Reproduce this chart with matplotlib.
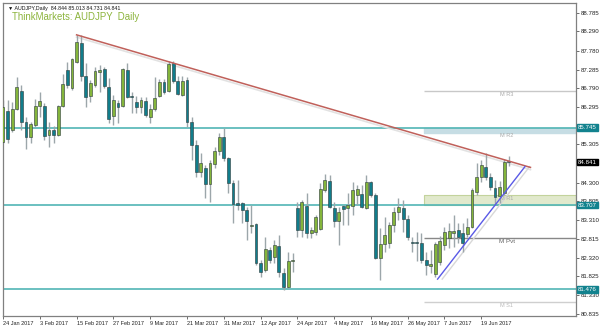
import numpy as np
import matplotlib.pyplot as plt

# AUDJPY daily candles, 24 Jan 2017 .. 27 Jun 2017 (business days)
opens = [85.37, 86.19, 85.69, 86.24, 86.72, 85.90, 85.50, 85.82, 86.32, 86.32,
         85.56, 85.69, 85.56, 86.32, 87.27, 86.80, 87.48, 87.99, 87.11, 86.59,
         86.88, 87.22, 87.30, 86.82, 86.06, 86.40, 86.32, 87.27, 86.59, 86.43,
         86.29, 86.45, 86.03, 86.24, 86.59, 86.96, 86.72, 87.46, 86.98, 86.61,
         87.01, 85.90, 85.29, 84.58, 84.68, 84.26, 84.79, 85.13, 85.50, 84.95,
         84.29, 83.76, 83.76, 83.57, 83.15, 83.20, 82.18, 81.99, 82.52, 82.33,
         82.62, 81.91, 81.54, 82.23, 83.63, 83.05, 83.68, 82.97, 82.99, 83.07,
         84.10, 84.34, 83.63, 83.28, 83.68, 83.63, 83.68, 83.97, 84.00, 83.63,
         84.31, 83.97, 82.31, 82.68, 82.70, 83.18, 83.52, 83.63, 83.34, 82.73,
         82.73, 82.70, 82.25, 82.10, 81.88, 82.20, 82.65, 82.84, 82.97, 83.05,
         82.97, 82.94, 83.13, 84.05, 84.45, 84.71, 84.45, 84.16, 83.94, 84.02,
         84.844]
highs = [86.48, 86.48, 86.43, 87.09, 86.88, 86.03, 85.90, 86.51, 86.69, 86.40,
         85.90, 85.79, 86.35, 87.17, 87.48, 87.59, 88.20, 88.20, 87.46, 87.01,
         87.35, 87.40, 87.35, 87.06, 86.61, 86.48, 87.33, 87.46, 86.69, 86.59,
         86.56, 86.56, 86.37, 87.09, 87.03, 87.03, 87.51, 87.51, 87.11, 87.11,
         87.09, 86.03, 85.42, 85.08, 84.76, 84.90, 85.24, 85.61, 85.74, 84.97,
         84.37, 84.37, 83.79, 83.65, 83.71, 83.23, 82.25, 82.86, 82.60, 82.78,
         82.91, 82.04, 82.47, 82.44, 83.79, 83.84, 84.02, 83.13, 83.44, 84.29,
         84.53, 84.50, 83.79, 83.65, 83.71, 84.02, 84.31, 84.23, 84.23, 84.50,
         84.34, 84.02, 83.10, 83.39, 83.26, 83.65, 83.89, 83.84, 83.44, 82.86,
         82.99, 82.97, 82.47, 82.52, 82.73, 82.89, 83.13, 83.23, 83.44, 83.23,
         83.23, 83.36, 84.16, 84.82, 84.90, 85.08, 84.55, 84.37, 84.34, 84.92,
         85.013]
lows = [85.34, 85.34, 85.63, 86.22, 85.69, 85.19, 85.34, 85.77, 86.03, 85.42,
        85.24, 85.34, 85.53, 86.29, 86.80, 86.74, 87.46, 86.98, 86.29, 86.43,
        86.82, 86.69, 86.80, 85.87, 85.82, 85.87, 86.29, 86.54, 86.14, 86.14,
        86.14, 86.03, 85.87, 86.19, 86.56, 86.64, 86.69, 86.93, 86.61, 86.59,
        85.77, 84.90, 84.45, 84.45, 83.89, 83.79, 84.68, 85.03, 84.87, 84.02,
        83.23, 83.57, 83.23, 82.78, 82.97, 82.12, 81.81, 81.94, 82.18, 82.18,
        81.81, 81.46, 81.52, 81.94, 82.86, 82.86, 82.84, 82.84, 82.91, 83.05,
        84.05, 83.63, 83.13, 82.65, 83.18, 83.18, 83.44, 83.71, 83.63, 83.60,
        83.92, 82.28, 81.73, 82.47, 82.57, 82.99, 83.31, 82.99, 82.78, 82.47,
        82.23, 82.18, 81.86, 81.91, 81.81, 82.12, 82.52, 82.57, 82.60, 82.70,
        82.47, 82.86, 83.10, 83.97, 84.31, 84.37, 84.10, 83.71, 83.76, 83.97,
        84.731]
closes = [86.29, 85.45, 86.24, 86.82, 85.90, 85.50, 85.85, 86.32, 86.45, 85.53,
          85.69, 85.56, 86.32, 86.90, 86.88, 87.56, 88.01, 87.11, 86.56, 86.93,
          87.25, 87.27, 86.85, 85.98, 86.48, 86.29, 87.30, 86.56, 86.56, 86.29,
          86.48, 86.08, 86.24, 86.53, 86.96, 86.69, 87.43, 86.98, 86.64, 86.98,
          85.90, 85.29, 84.58, 84.82, 84.26, 84.82, 85.13, 85.50, 84.95, 84.29,
          83.73, 83.71, 83.57, 83.28, 83.18, 82.18, 81.94, 82.54, 82.25, 82.65,
          81.94, 81.54, 82.23, 82.25, 83.05, 83.79, 82.97, 83.05, 83.39, 84.13,
          84.37, 83.65, 83.28, 83.52, 83.60, 83.71, 84.10, 84.13, 83.65, 84.31,
          83.97, 82.31, 82.68, 82.91, 83.18, 83.52, 83.65, 83.34, 82.86, 82.70,
          82.70, 82.25, 82.12, 82.15, 82.68, 82.76, 82.99, 83.02, 83.02, 82.86,
          82.70, 83.13, 84.10, 84.45, 84.76, 84.45, 84.18, 83.92, 84.18, 84.84,
          84.841]

date_labels = ["24 Jan 2017", "3 Feb 2017", "15 Feb 2017", "27 Feb 2017", "9 Mar 2017",
               "21 Mar 2017", "31 Mar 2017", "12 Apr 2017", "24 Apr 2017", "4 May 2017",
               "16 May 2017", "26 May 2017", "7 Jun 2017", "19 Jun 2017"]
price_ticks = [88.785, 88.290, 87.780, 87.285, 86.790, 86.295, 85.305, 84.300,
               83.805, 83.310, 82.815, 82.320, 81.825, 81.330, 80.835]

# horizontal support / resistance lines
levels = [85.745, 83.707, 81.476]
# trend lines (bar index, price)
down_trend = ([16, 114.7], [88.20, 84.70])
up_trend = ([94.5, 113.5], [81.75, 84.72])
# monthly pivots (from 1 Jun)
pivot_start = 91.5
m_r3 = 86.72
m_r2 = (85.62, 85.745)
m_r1 = (83.71, 83.97)
m_pvt = 82.84
m_s1 = 81.15

o = np.array(opens); h = np.array(highs); l = np.array(lows); c = np.array(closes)
x = np.arange(len(o))
bull = c >= o

plt.rcParams['font.family'] = ['Liberation Sans', 'DejaVu Sans']

fig = plt.figure(figsize=(6, 3.3), dpi=100)
ax = fig.add_axes([0.005, 0.0424, 0.955, 0.9485])
ax.set_xlim(0, 124.6)
ax.set_ylim(80.776, 89.041)

teal_line = '#52b5b5'
for lv in levels:
    ax.axhline(lv, color=teal_line, lw=1.2, zorder=1)

# pivot objects
xr = 124.6
ax.fill_between([pivot_start, xr], m_r2[0], m_r2[1], color='#c6dde4', zorder=0.5)
ax.fill_between([pivot_start, xr], m_r1[0], m_r1[1], color='#e1e9cc',
                edgecolor='#c3d39c', lw=0.8, zorder=0.5)
ax.hlines(m_r3, pivot_start, xr, color='#c8c8c8', lw=1, zorder=0.6)
ax.hlines(m_pvt, pivot_start, xr, color='#888888', lw=1, zorder=0.6)
ax.hlines(m_s1, pivot_start, xr, color='#cfcfcf', lw=1, zorder=0.6)
lbl_x = 109.5
ax.text(lbl_x, m_r3 - 0.04, 'M R3', fontsize=4, color='#aaaaaa', ha='center', va='top')
ax.text(lbl_x, m_r2[0] - 0.02, 'M R2', fontsize=4, color='#aaaaaa', ha='center', va='top')
ax.text(lbl_x, m_r1[1] - 0.03, 'M R1', fontsize=4, color='#aaaaaa', ha='center', va='top')
ax.text(lbl_x, m_pvt - 0.04, 'M Pvt', fontsize=4.5, color='#666666', ha='center', va='top')
ax.text(lbl_x, m_s1 - 0.04, 'M S1', fontsize=4, color='#bbbbbb', ha='center', va='top')

# trend lines with their light shadow
ax.plot(down_trend[0], np.array(down_trend[1]) - 0.06, color='#e2e2e2', lw=1.2, zorder=1.5)
ax.plot(down_trend[0], down_trend[1], color='#c0605a', lw=1.1, zorder=4)
ax.plot(np.array(up_trend[0]) + 1.0, up_trend[1], color='#d8d8d8', lw=1.0, zorder=1.5)
ax.plot(up_trend[0], up_trend[1], color='#5a5ae6', lw=1.0, zorder=4)

# candles
ax.vlines(x, l, h, color='#9ca6aa', lw=1.0, zorder=2)
body_lo = np.minimum(o, c)
body_h = np.maximum(np.abs(c - o), 0.025)
colors = np.where(bull, '#84b53b', '#117d8b')
ax.bar(x, body_h, bottom=body_lo, width=0.62, color=colors,
       edgecolor='#2d3b3b', linewidth=0.4, zorder=3)

# axes styling
for s in ax.spines.values():
    s.set_color('#808080')
    s.set_linewidth(0.9)
ax.yaxis.tick_right()
ax.set_yticks(price_ticks)
ax.set_yticklabels([f'{p:.3f}' for p in price_ticks])
ax.set_xticks(np.arange(len(date_labels)) * 8)
ax.set_xticklabels(date_labels, ha='left')
ax.tick_params(axis='y', labelsize=4.4, length=2, width=0.6, color='#555555',
               labelcolor='#222222', pad=1.2)
ax.tick_params(axis='x', labelsize=4.0, length=2, width=0.6, color='#555555',
               labelcolor='#222222', pad=1.5)

# right-side price boxes
ytr = ax.get_yaxis_transform()
for lv in levels:
    ax.text(1.003, lv, f'{lv:.3f}', transform=ytr, fontsize=4.4, color='white',
            va='center', ha='left', zorder=6,
            bbox=dict(boxstyle='square,pad=0.15', fc='#12828e', ec='#12828e'))
ax.text(1.003, closes[-1], f'{closes[-1]:.3f}', transform=ytr, fontsize=4.4,
        color='white', va='center', ha='left', zorder=6,
        bbox=dict(boxstyle='square,pad=0.15', fc='black', ec='black'))

# header
fig.text(0.013, 0.983, '▼ AUDJPY,Daily  84.844 85.013 84.731 84.841',
         fontsize=3.8, color='#111111', va='top', ha='left')
fig.text(0.02, 0.965, 'ThinkMarkets: AUDJPY  Daily', fontsize=6.9,
         color='#8cb43c', va='top', ha='left')

fig.savefig('out.png', dpi=100)
